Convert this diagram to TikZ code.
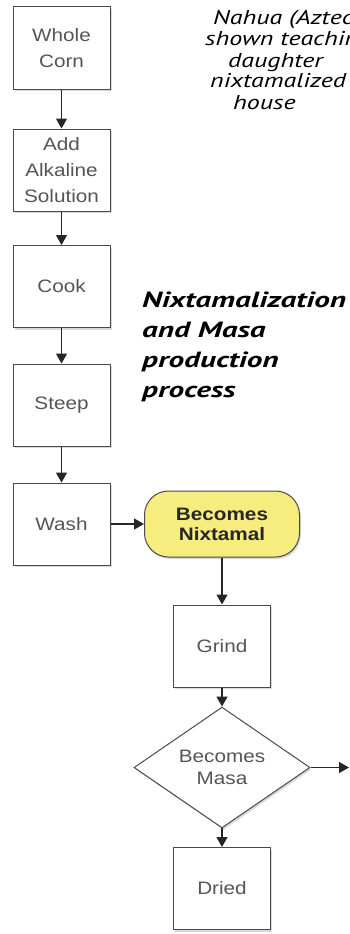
\documentclass[tikz,border=0pt]{standalone}
\usepackage{fontspec}
\setmainfont{Liberation Sans}
\newfontfamily\stepfont[FakeStretch=1.15]{Liberation Sans}
\newfontfamily\notefont[FakeStretch=1.3]{PT Sans}
\newfontfamily\titlefont[FakeStretch=1.42]{PT Sans}
\usetikzlibrary{shapes.geometric,arrows.meta,shadows}
\definecolor{boxline}{HTML}{4A4A4A}
\definecolor{boxtext}{HTML}{555555}
\definecolor{nixyellow}{HTML}{F7ED7E}

\begin{document}
\begin{tikzpicture}[x=1pt, y=-1pt,
    stepbox/.style = {draw=boxline, fill=white, line width=1pt,
      minimum width=97pt, minimum height=82pt, inner sep=0pt,
      align=center, text=boxtext,
      font=\stepfont\fontsize{18}{26}\selectfont,
      drop shadow={shadow xshift=1.5pt, shadow yshift=-2pt, opacity=.3}},
    pillbox/.style = {stepbox, rounded corners=24pt, fill=nixyellow,
      minimum width=155pt, minimum height=66pt, text=black!85,
      font=\stepfont\bfseries\fontsize{18}{20}\selectfont},
    decision/.style = {stepbox, diamond, minimum width=176pt,
      minimum height=89pt, font=\stepfont\fontsize{18}{22}\selectfont},
    flow/.style = {draw=black!85, line width=1.3pt,
      -{Triangle[width=11pt, length=10pt]}},
    note/.style = {anchor=base west, inner sep=0pt,
      font=\notefont\itshape\fontsize{20}{21}\selectfont}
  ]
    \useasboundingbox (0,0) rectangle (349,934);
    \clip (0,0) rectangle (349,934);
    % steps
    \node[stepbox] (corn) at (61.5,48) {Whole\\Corn};
    \node[stepbox] (lime) at (61.5,170) {Add\\Alkaline\\Solution};
    \node[stepbox] (cook) at (61.5,286.5) {Cook};
    \node[stepbox] (steep) at (61.5,405) {Steep};
    \node[stepbox] (wash) at (61.5,524) {Wash};
    \node[pillbox] (nixtamal) at (222,524) {Becomes\\Nixtamal};
    \node[stepbox] (grind) at (222,646) {Grind};
    \node[decision] (masa) at (222,767.5) {Becomes\\Masa};
    \node[stepbox] (dried) at (222,888.5) {Dried};
    \coordinate (offpage) at (349,767.5);
    % connectors
    \path[every edge/.style={flow}]
      (corn) edge (lime)
      (lime) edge (cook)
      (cook) edge (steep)
      (steep) edge (wash)
      (wash) edge (nixtamal)
      (nixtamal) edge (grind)
      (grind) edge (masa)
      (masa) edge (dried)
      (masa.east) edge (offpage)
    ;
    % caption (runs off the page)
    \path
      foreach \n/\x/\y/\t in {cap1/213/25/{Nahua (Aztec},
        cap2/205/46/{shown teachin}, cap3/228/67/{daughter},
        cap4/210/88/{nixtamalized}, cap5/233/109/{house}}{
        (\x,\y) node[note, name=\n]{\t}
      };
    % title
    \node[anchor=north west, inner sep=0pt, align=left,
      font=\titlefont\bfseries\itshape\fontsize{22}{30}\selectfont]
      (title) at (142,292) {Nixtamalization\\and Masa\\production\\process};
\end{tikzpicture}
\end{document}
